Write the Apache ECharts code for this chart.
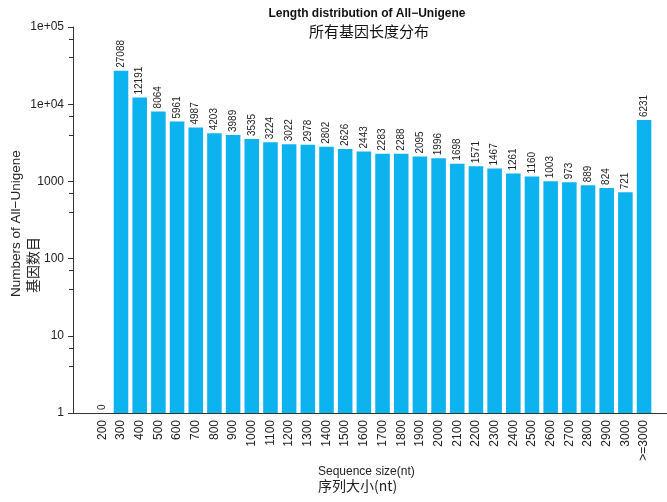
<!DOCTYPE html>
<html>
<head>
<meta charset="utf-8">
<script src="https://cdn.jsdelivr.net/npm/echarts@6/dist/echarts.min.js"></script>
<style>
  html, body { margin: 0; padding: 0; background: #fff; }
  #chart { width: 667px; height: 502px; }
</style>
</head>
<body>
<div id="chart"></div>
<script>
    // 序列长度区间
    var categories = ['200', '300', '400', '500', '600', '700', '800', '900', '1000', '1100',
        '1200', '1300', '1400', '1500', '1600', '1700', '1800', '1900', '2000', '2100',
        '2200', '2300', '2400', '2500', '2600', '2700', '2800', '2900', '3000', '>=3000'];
    // 每个区间的基因数目
    var counts = [0, 27088, 12191, 8064, 5961, 4987, 4203, 3989, 3535, 3224,
        3022, 2978, 2802, 2626, 2443, 2283, 2288, 2095, 1996, 1698,
        1571, 1467, 1261, 1160, 1003, 973, 889, 824, 721, 6231];

    var font = '"Liberation Sans", Arial, sans-serif';
    var cjk = '"Noto Sans CJK SC", sans-serif';

    // log 轴画不了 0，放到轴底(1)，标签仍显示原值
    var barData = [];
    for (var i = 0; i < counts.length; i++) {
        barData.push({ value: Math.max(counts[i], 1), raw: counts[i] });
    }

    var chart = echarts.init(document.getElementById('chart'));
    var option = {
        animation: false,
        title: [
            {
                text: 'Length distribution of All\u2212Unigene',
                left: 362, top: 3, textAlign: 'center',
                textStyle: { fontFamily: font, fontSize: 12, fontWeight: 'bold', color: '#111' }
            },
            {
                text: '所有基因长度分布',
                left: 364, top: 19, textAlign: 'center',
                textStyle: { fontFamily: cjk, fontSize: 15, fontWeight: 'normal', color: '#111' }
            }
        ],
        grid: [
            { left: 73, right: 0, top: 27, bottom: 89 },
            { left: 93, right: 13.6, top: 27, bottom: 89 }
        ],
        xAxis: [
            {
                gridIndex: 0, type: 'value', min: 0, max: 1,
                axisLine: { show: true, lineStyle: { color: '#333', width: 1 } },
                axisTick: { show: false }, axisLabel: { show: false }, splitLine: { show: false }
            },
            {
                gridIndex: 1, type: 'category', data: categories,
                axisLine: { show: false }, axisTick: { show: false },
                axisLabel: {
                    rotate: 90, margin: 7, interval: 0,
                    fontFamily: font, fontSize: 12, color: '#222'
                }
            }
        ],
        yAxis: [
            {
                gridIndex: 0, type: 'log', logBase: 10, min: 1, max: 100000,
                axisLine: { show: true, lineStyle: { color: '#333', width: 1 } },
                axisTick: { show: true, inside: false, length: 5, lineStyle: { color: '#333' } },
                minorTick: { show: true, splitNumber: 3, length: 4, lineStyle: { color: '#333' } },
                splitLine: { show: false },
                axisLabel: {
                    margin: 9, fontFamily: font, fontSize: 12, color: '#222',
                    formatter: function (v) {
                        if (v >= 10000) {
                            return '1e+0' + Math.round(Math.log(v) / Math.LN10);
                        }
                        return String(v);
                    }
                }
            },
            {
                gridIndex: 1, type: 'log', logBase: 10, min: 1, max: 100000, show: false,
                splitLine: { show: false }
            }
        ],
        graphic: [
            {
                type: 'text', x: 16, y: 297, rotation: Math.PI / 2,
                style: {
                    text: 'Numbers of All\u2212Unigene', fontFamily: font, fontSize: 13.5,
                    fill: '#222', align: 'left', verticalAlign: 'middle'
                }
            },
            {
                type: 'text', x: 33, y: 293, rotation: Math.PI / 2,
                style: {
                    text: '基因数目', fontFamily: cjk, fontSize: 14,
                    fill: '#222', align: 'left', verticalAlign: 'middle'
                }
            },
            {
                type: 'text', x: 318, y: 472,
                style: {
                    text: 'Sequence size(nt)', fontFamily: font, fontSize: 12,
                    fill: '#222', align: 'left', verticalAlign: 'middle'
                }
            },
            {
                type: 'text', x: 318, y: 486,
                style: {
                    text: '序列大小(nt)', fontFamily: cjk, fontSize: 14,
                    fill: '#222', align: 'left', verticalAlign: 'middle'
                }
            }
        ],
        series: [
            {
                type: 'bar', xAxisIndex: 1, yAxisIndex: 1,
                data: barData,
                barCategoryGap: '22%',
                itemStyle: { color: '#0DB3EF' },
                label: {
                    show: true, position: 'top', rotate: 90, distance: 3,
                    align: 'left', verticalAlign: 'middle',
                    fontFamily: font, fontSize: 10, color: '#222',
                    formatter: function (p) { return String(p.data.raw); }
                }
            }
        ]
    };
    chart.setOption(option);
</script>
</body>
</html>
